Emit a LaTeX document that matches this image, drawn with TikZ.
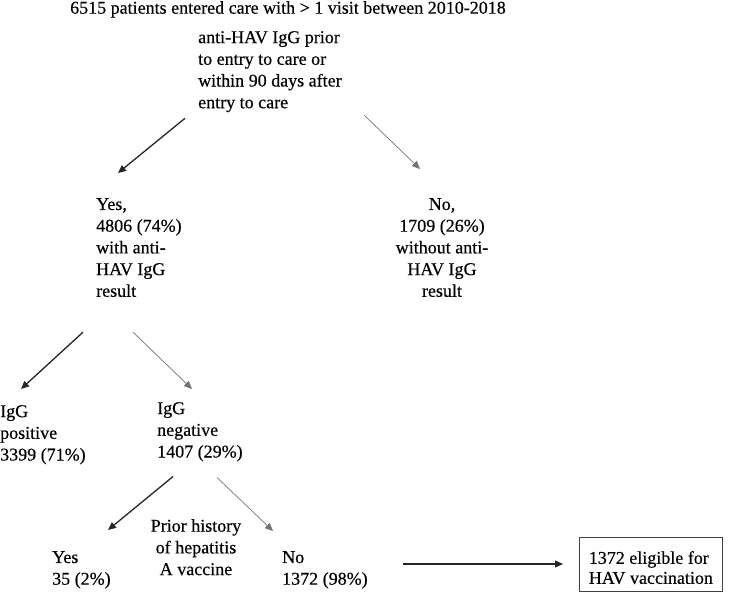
\documentclass[tikz,border=0pt]{standalone}
\usepackage{fontspec}
\setmainfont{Liberation Serif}[FakeBold=0.4]
\usetikzlibrary{arrows.meta}

\begin{document}
\begin{tikzpicture}[x=1pt, y=-1pt, t/.style={inner sep=0pt,align=left,font=\fontsize{18}{21.7}\selectfont}, dk/.style={-{Triangle[length=8pt,width=7pt]},line width=1.3pt,draw=black!85}, lt/.style={-{Triangle[length=8pt,width=7pt]},line width=0.7pt,draw=black!55}]
\useasboundingbox (0,0) rectangle (731,593);
\node[t,anchor=north west] (title) at (70,1) {6515 patients entered care with > 1 visit between 2010-2018};
\node[t,anchor=north west] (igg) at (198,31) {anti-HAV IgG prior\\to entry to care or\\within 90 days after\\entry to care};
\node[t,anchor=north west] (yes) at (96,198) {Yes,\\4806 (74\%)\\with anti-\\HAV IgG\\result};
\node[t,align=center,anchor=north] (no) at (442,198) {No,\\1709 (26\%)\\without anti-\\HAV IgG\\result};
\node[t,anchor=north west] (pos) at (0,405) {IgG\\positive\\3399 (71\%)};
\node[t,anchor=north west] (neg) at (157,402) {IgG\\negative\\1407 (29\%)};
\node[t,align=center,anchor=north] (prior) at (196,519) {Prior history\\of hepatitis\\A vaccine};
\node[t,anchor=north west] (vacc) at (52,551) {Yes\\35 (2\%)};
\node[t,anchor=north west] (novacc) at (282,551) {No\\1372 (98\%)};
\node[t,draw=black!75,line width=0.8pt,minimum width=143pt,minimum height=54pt,anchor=west,font=\fontsize{18}{20}\selectfont] (elig) at (579,564) {\rule{0pt}{20pt}1372 eligible for\\HAV vaccination};
\draw[dk] ([xshift=-13pt,yshift=-6pt]igg.south west) -- ([xshift=22pt,yshift=25pt]yes.north west);
\draw[lt] ([xshift=22.5pt,yshift=-3pt]igg.south east) -- ([xshift=-22pt,yshift=29pt]no.north);
\draw[dk] ([xshift=-13pt,yshift=-35pt]yes.south west) -- ([xshift=21pt,yshift=16pt]pos.north west);
\draw[lt] ([xshift=37pt,yshift=-35pt]yes.south west) -- ([xshift=35pt,yshift=13pt]neg.north west);
\draw[dk] ([xshift=16pt,yshift=-15pt]neg.south west) -- ([xshift=56pt,yshift=21pt]vacc.north west);
\draw[lt] ([xshift=60pt,yshift=-16pt]neg.south west) -- ([xshift=-9pt,yshift=20pt]novacc.north west);
\draw[dk] ([xshift=-176pt]elig.west) -- ([xshift=-16pt]elig.west);
\end{tikzpicture}
\end{document}
